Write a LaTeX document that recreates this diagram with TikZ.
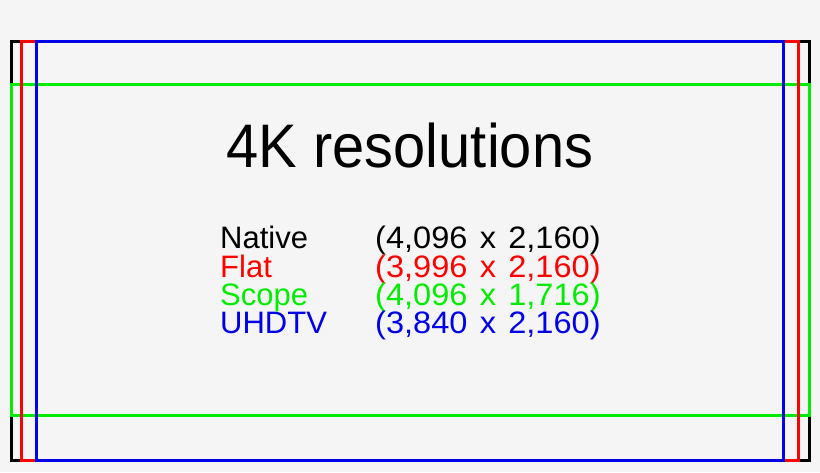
\documentclass[tikz,border=0pt]{standalone}
\usepackage{fontspec}
\setmainfont{Liberation Sans}
\newfontfamily\titlefont[FakeStretch=0.94]{Liberation Sans}
\newfontfamily\listfont{Liberation Sans}
\newfontfamily\valfont[FakeStretch=1.05,WordSpace=1.36]{Liberation Sans}
\definecolor{bg}{RGB}{245,245,245}
\definecolor{pr}{RGB}{255,0,0}
\definecolor{pg}{RGB}{0,235,0}
\definecolor{pb}{RGB}{0,0,230}
\begin{document}
\begin{tikzpicture}[x=1pt,y=-1pt,
  fr/.style={draw, line width=3pt},
  lbl/.style={anchor=base west, inner sep=0pt, font=\listfont\fontsize{31}{31}\selectfont},
  val/.style={anchor=base west, inner sep=0pt, font=\valfont\fontsize{31}{31}\selectfont}]
\fill[bg] (0,0) rectangle (820,472);
\useasboundingbox (0,0) rectangle (820,472);
\path[fr, draw=black] (11,41) rectangle (809,460);
\path[fr, draw=pg] (11,84) rectangle (809,415);
\path[fr, draw=pr] (21,41) rectangle (798,460);
\path[fr, draw=pb] (36,41) rectangle (783,460);
\node[anchor=base, inner sep=0pt, font=\titlefont\fontsize{61.5}{62}\selectfont] (title) at (410,167) {4K resolutions};
\node[lbl, black] (n1) at (220,248) {Native};
\node[val, black] (v1) at (375,248) {(4,096 x 2,160)};
\node[lbl, pr] (n2) at (220,277) {Flat};
\node[val, pr] (v2) at (375,277) {(3,996 x 2,160)};
\node[lbl, pg] (n3) at (220,305) {Scope};
\node[val, pg] (v3) at (375,305) {(4,096 x 1,716)};
\node[lbl, pb] (n4) at (220,333) {UHDTV};
\node[val, pb] (v4) at (375,333) {(3,840 x 2,160)};
\end{tikzpicture}
\end{document}
